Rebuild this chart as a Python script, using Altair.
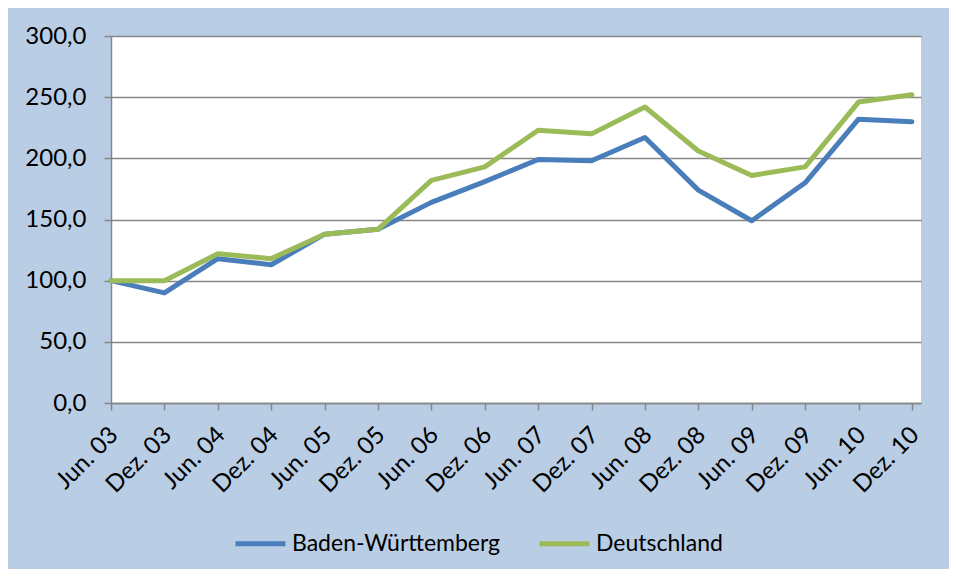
import altair as alt
import pandas as pd

labels = ["Jun. 03", "Dez. 03", "Jun. 04", "Dez. 04", "Jun. 05", "Dez. 05",
          "Jun. 06", "Dez. 06", "Jun. 07", "Dez. 07", "Jun. 08", "Dez. 08",
          "Jun. 09", "Dez. 09", "Jun. 10", "Dez. 10"]
bw = [100, 90, 118, 113, 138, 142, 164, 181, 199, 198, 217, 174, 149, 180, 232, 230]
de = [100, 100, 122, 118, 138, 142, 182, 193, 223, 220, 242, 206, 186, 193, 246, 252]
series = ["Baden-Württemberg", "Deutschland"]
colors = ["#4A7EBB", "#9BBB59"]

rows = []
for i, lab in enumerate(labels):
    rows.append({"i": i, "Zeit": lab, "Serie": series[0], "Wert": bw[i]})
    rows.append({"i": i, "Zeit": lab, "Serie": series[1], "Wert": de[i]})
df = pd.DataFrame(rows)

label_arr = "[" + ",".join("'" + l + "'" for l in labels) + "]"
FONT = "Lato"
FS = 24

chart = alt.Chart(df).mark_line(strokeWidth=5, strokeCap="round", strokeJoin="round").encode(
    x=alt.X("i:Q",
            scale=alt.Scale(domain=[0, 15.17], nice=False, zero=False),
            axis=alt.Axis(values=list(range(len(labels))),
                          labelExpr=label_arr + "[datum.value]",
                          labelAngle=315, labelAlign="right", labelBaseline="middle",
                          labelPadding=21, labelOffset=3,
                          grid=False, tickSize=7, tickColor="#868686", tickWidth=1.5,
                          domainColor="#868686", domainWidth=1.5,
                          labelFont=FONT, labelFontSize=FS, labelColor="black",
                          title=None, labelOverlap=False, labelBound=False, labelFlush=False)),
    y=alt.Y("Wert:Q",
            scale=alt.Scale(domain=[0, 300], nice=False),
            axis=alt.Axis(values=[0, 50, 100, 150, 200, 250, 300],
                          labelExpr="replace(format(datum.value, '.1f'), '.', ',')",
                          grid=True, gridColor="#868686", gridWidth=1.5,
                          tickSize=7, tickColor="#868686", tickWidth=1.5,
                          domainColor="#868686", domainWidth=1.5,
                          labelPadding=18, labelFont=FONT, labelFontSize=FS,
                          labelColor="black", title=None)),
    color=alt.Color("Serie:N",
                    scale=alt.Scale(domain=series, range=colors),
                    legend=alt.Legend(orient="none", legendX=122, legendY=480,
                                      direction="horizontal", title=None,
                                      symbolType="stroke", symbolSize=2500,
                                      symbolStrokeWidth=5, labelFont=FONT,
                                      labelFontSize=23, labelColor="black",
                                      labelLimit=0,
                                      labelOffset=4, columnPadding=28)),
).properties(
    width=810, height=367,
    background="#B9CDE5",
    padding={"left": 103, "top": 28, "right": 28, "bottom": 166},
    autosize=alt.AutoSizeParams(type="none"),
).configure_view(fill="white", stroke=None)

chart.save("out.html", embed_options={"renderer": "svg", "actions": False})
